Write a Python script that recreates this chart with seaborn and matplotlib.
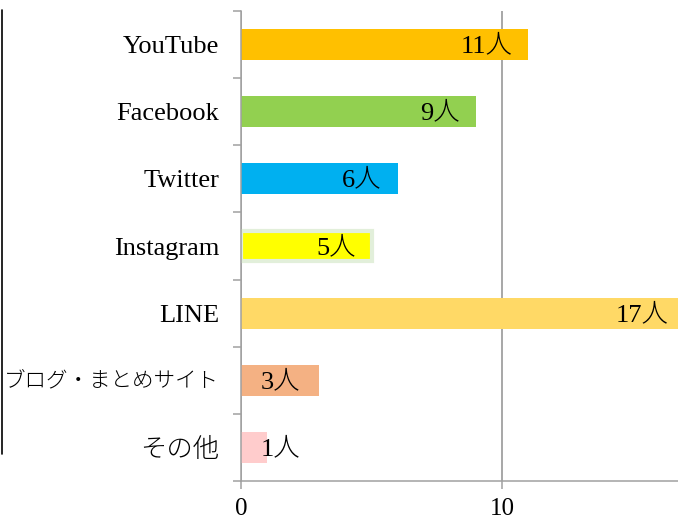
import seaborn as sns
import matplotlib.pyplot as plt
import matplotlib.lines as mlines
import pandas as pd

sns.set_style("white")
plt.rcParams['font.family'] = ['Liberation Serif', 'Noto Sans CJK JP']
plt.rcParams['text.color'] = 'black'
plt.rcParams['xtick.color'] = 'black'
plt.rcParams['ytick.color'] = 'black'

# data
categories = ['YouTube', 'Facebook', 'Twitter', 'Instagram', 'LINE',
              'ブログ・まとめサイト', 'その他']
counts = [11, 9, 6, 5, 17, 3, 1]
bar_colors = ['#FFC000', '#92D050', '#00B0F0', '#FFFF00', '#FFD966',
              '#F4B183', '#FFCCCC']
x_ticks = [0, 10]

df = pd.DataFrame({'sns': categories, 'n': counts})

fig = plt.figure(figsize=(6.78, 5.21), dpi=100)
# axis runs past the right edge of the picture, like the original
ax = fig.add_axes([241 / 678, 40 / 521, 17 * 26.1 / 678, 470 / 521])

sns.barplot(data=df, y='sns', x='n', hue='sns', palette=bar_colors,
            saturation=1, legend=False, orient='h', width=0.46, ax=ax, zorder=2)

# Instagram bar has a pale green border
for p in ax.patches:
    idx = int(round(p.get_y() + p.get_height() / 2))
    p.set_linewidth(0)
    if categories[idx] == 'Instagram':
        p.set_edgecolor('#E2EFDA')
        p.set_linewidth(3)

ax.set_xlim(0, 17)
ax.set_ylim(len(categories) - 0.5, -0.5)
ax.set_xticks(x_ticks)
ax.set_xlabel('')
ax.set_ylabel('')

# value labels "n人"
for i, v in enumerate(counts):
    if v >= 5:
        ax.annotate(f'{v}人', (v, i), xytext=(-11.5, -1), textcoords='offset points',
                    ha='right', va='center', fontsize=19, fontweight='light', zorder=3)
    else:
        ax.annotate(f'{v}人', (0, i), xytext=(14.4, -1), textcoords='offset points',
                    ha='left', va='center', fontsize=19, fontweight='light', zorder=3)

# ticks between categories on the left axis
ax.set_yticks([i - 0.5 for i in range(len(categories) + 1)], minor=True)
ax.tick_params(axis='y', which='major', length=0, pad=15.8, labelsize=19)
ax.tick_params(axis='y', which='minor', left=True, length=5.8, width=1.1,
               color='#A0A0A0')
ax.tick_params(axis='x', which='major', bottom=True, length=5.8, width=1.1,
               color='#A0A0A0', labelsize=18, pad=6.5)
for lab in ax.get_yticklabels():
    lab.set_fontweight('light')
    if lab.get_text() == 'ブログ・まとめサイト':
        lab.set_fontsize(15.5)

ax.xaxis.grid(True, color='#909090', linewidth=1.1, zorder=0)
ax.set_axisbelow(True)
sns.despine(ax=ax, top=True, right=True)
for s in ['left', 'bottom']:
    ax.spines[s].set_color('#A0A0A0')
    ax.spines[s].set_linewidth(1.1)

# black frame edge on the far left
fig.add_artist(mlines.Line2D([1.5 / 678, 1.5 / 678], [1 - 10 / 521, 1 - 454 / 521],
                             color='black', linewidth=1.2))

plt.savefig('out.png', dpi=100)
